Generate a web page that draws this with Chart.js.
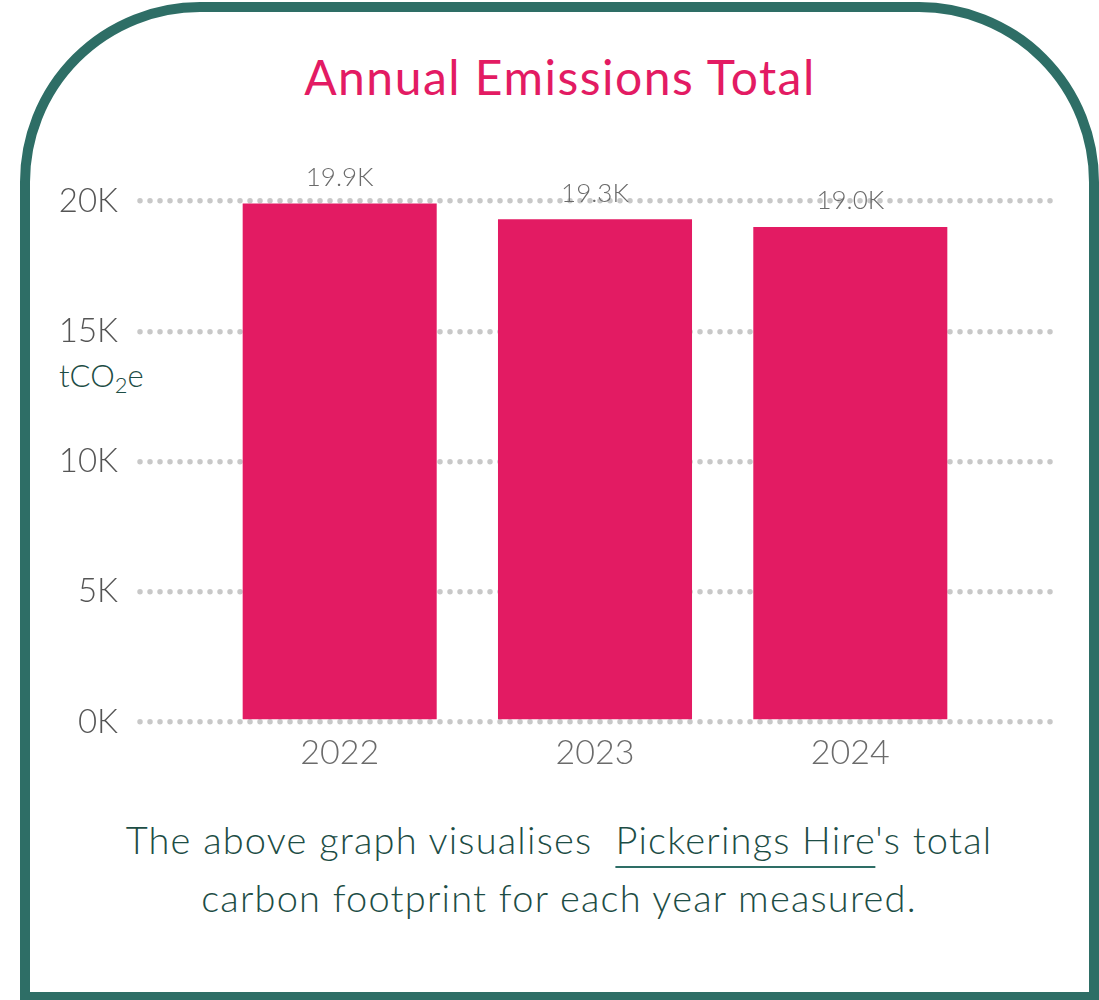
<!DOCTYPE html>
<html>
<head>
    <title>Annual Emissions Total</title>
    <meta charset="UTF-8">
    <style>
        body {
            margin: 0;
            width: 1099px;
            height: 1000px;
            overflow: hidden;
            background: #ffffff;
            position: relative;
            font-family: Lato, "Open Sans", sans-serif;
        }
        .frame {
            position: absolute;
            left: 20px;
            top: 2px;
            width: 1079px;
            height: 1000px;
            box-sizing: border-box;
            border: 10px solid #2e6e66;
            border-radius: 180px 180px 0 0;
        }
        .main-title {
            position: absolute;
            left: 0;
            width: 1120px;
            top: 48px;
            text-align: center;
            font-size: 48px;
            font-weight: 400;
            letter-spacing: 1.5px;
            color: #e31b63;
            margin: 0;
        }
        .unit {
            position: absolute;
            left: 59px;
            top: 356px;
            font-size: 31px;
            font-weight: 300;
            color: #1d4d45;
        }
        .unit sub {
            font-size: 22px;
            vertical-align: -6px;
        }
        .caption {
            position: absolute;
            left: 0;
            width: 1118px;
            top: 810px;
            text-align: center;
            font-size: 38px;
            font-weight: 300;
            letter-spacing: 1.2px;
            line-height: 58px;
            color: #1d4d45;
            white-space: pre;
        }
        .caption span {
            text-decoration: underline;
            text-decoration-color: #2e6e66;
            text-decoration-thickness: 2px;
            text-underline-offset: 12px;
        }
        #chartEmissions {
            position: absolute;
            left: 0;
            top: 0;
        }
    </style>
    <!-- Include Chart.js library -->
    <script src="https://cdn.jsdelivr.net/npm/chart.js"></script>
</head>
<body>

<div class="frame"></div>
<h1 class="main-title">Annual Emissions Total</h1>
<div class="unit">tCO<sub>2</sub>e</div>
<canvas id="chartEmissions" width="1099" height="800"></canvas>
<div class="caption">The above graph visualises  <span>Pickerings Hire</span>'s total
carbon footprint for each year measured.</div>

<script>
    const years = ['2022', '2023', '2024'];
    const emissions = [19900, 19300, 19000];
    const yTicks = [0, 5000, 10000, 15000, 20000];

    // dotted grid needs round caps
    const roundCaps = {
        id: 'roundCaps',
        beforeDraw(chart) {
            chart.ctx.lineCap = 'round';
        },
        afterDraw(chart) {
            chart.ctx.lineCap = 'butt';
        }
    };

    // value labels above the bars
    const barLabels = {
        id: 'barLabels',
        afterDatasetsDraw(chart) {
            const ctx = chart.ctx;
            const meta = chart.getDatasetMeta(0);
            ctx.save();
            ctx.font = '300 26px Lato, sans-serif';
            ctx.fillStyle = '#6b6b6b';
            ctx.textAlign = 'center';
            ctx.textBaseline = 'middle';
            meta.data.forEach((bar, i) => {
                ctx.fillText((emissions[i] / 1000).toFixed(1) + 'K', bar.x, bar.y - 26);
            });
            ctx.restore();
        }
    };

    window.onload = function () {
        const ctx = document.getElementById('chartEmissions').getContext('2d');
        new Chart(ctx, {
            type: 'bar',
            data: {
                datasets: [{
                    data: emissions.map((v, i) => ({ x: i, y: v })),
                    backgroundColor: '#e31b63',
                    borderWidth: 0,
                    barPercentage: 0.76,
                    categoryPercentage: 1.0
                }]
            },
            options: {
                responsive: false,
                animation: false,
                layout: {
                    padding: { left: 0, top: 201, right: 47, bottom: 0 }
                },
                plugins: {
                    legend: { display: false },
                    tooltip: { enabled: false }
                },
                scales: {
                    x: {
                        type: 'linear',
                        offset: false,
                        min: -0.79,
                        max: 2.79,
                        afterBuildTicks: (scale) => {
                            scale.ticks = years.map((_, i) => ({ value: i }));
                        },
                        afterFit: (scale) => {
                            scale.height = 78;
                        },
                        grid: { display: false, drawTicks: false },
                        border: { display: false },
                        ticks: {
                            padding: 11,
                            color: '#6b6b6b',
                            font: { family: 'Lato', size: 34, weight: 300 },
                            callback: (value) => years[value]
                        }
                    },
                    y: {
                        min: 0,
                        max: 20000,
                        afterBuildTicks: (scale) => {
                            scale.ticks = yTicks.map(v => ({ value: v }));
                        },
                        afterFit: (scale) => {
                            scale.width = 138;
                        },
                        grid: {
                            color: '#c8c8c8',
                            lineWidth: 5.5,
                            drawTicks: false
                        },
                        border: {
                            display: false,
                            dash: [0, 10],
                            dashOffset: -2
                        },
                        ticks: {
                            padding: 20,
                            color: '#555555',
                            font: { family: 'Lato', size: 33, weight: 300 },
                            callback: (value) => (value / 1000) + 'K'
                        }
                    }
                }
            },
            plugins: [roundCaps, barLabels]
        });
    };
</script>
</body>
</html>
